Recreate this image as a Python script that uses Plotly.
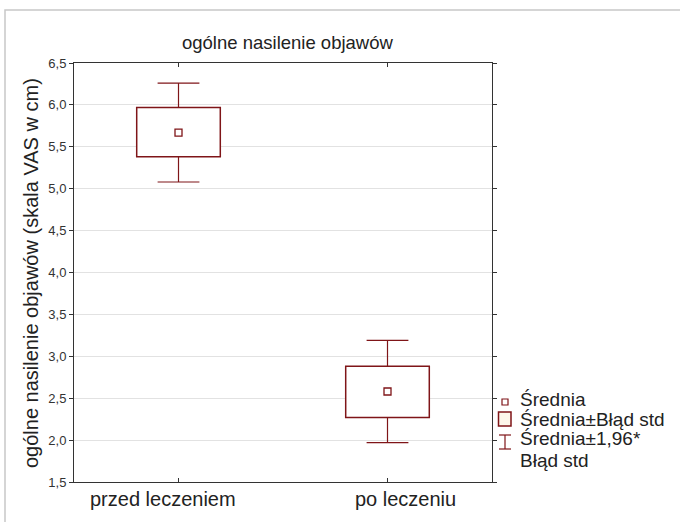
import plotly.graph_objects as go

categories = ["przed leczeniem", "po leczeniu"]
means = [5.67, 2.58]
se_low = [5.38, 2.27]
se_high = [5.97, 2.88]
ci_low = [5.08, 1.97]
ci_high = [6.26, 3.19]
y_ticks = [1.5, 2.0, 2.5, 3.0, 3.5, 4.0, 4.5, 5.0, 5.5, 6.0, 6.5]

RED = "#7f1518"
W, H = 680, 522
L, R, T, B = 74, 188, 63, 40
pw, ph = W - L - R, H - T - B

def px(x):
    return (x - L) / pw

def py(y):
    return (H - B - y) / ph

xs = list(range(len(categories)))

fig = go.Figure()
wx, wy = [], []
cap = 0.1
for i in xs:
    wx += [i, i, None, i - cap, i + cap, None, i, i, None, i - cap, i + cap, None]
    wy += [se_high[i], ci_high[i], None, ci_high[i], ci_high[i], None,
           se_low[i], ci_low[i], None, ci_low[i], ci_low[i], None]
fig.add_trace(go.Scatter(x=wx, y=wy, mode="lines", line=dict(color=RED, width=1.2),
                         hoverinfo="skip", showlegend=False))
fig.add_trace(go.Bar(x=xs, y=[h - l for h, l in zip(se_high, se_low)], base=se_low,
                     width=0.4, marker=dict(color="white", line=dict(color=RED, width=1.5)),
                     showlegend=False))
fig.add_trace(go.Scatter(x=xs, y=means, mode="markers",
                         marker=dict(symbol="square-open", size=7, color=RED, line=dict(width=1.3)),
                         showlegend=False))

shapes = [
    dict(type="rect", xref="paper", yref="paper", x0=px(5), x1=px(700), y0=py(10), y1=py(540),
         line=dict(color="#c8c8c8", width=1.5), layer="below"),
    dict(type="rect", xref="paper", yref="paper", x0=px(502), x1=px(508), y0=py(405), y1=py(399),
         line=dict(color=RED, width=1.2), fillcolor="white"),
    dict(type="rect", xref="paper", yref="paper", x0=px(498.5), x1=px(511), y0=py(426), y1=py(412),
         line=dict(color=RED, width=1.5), fillcolor="#fdf6ea"),
    dict(type="line", xref="paper", yref="paper", x0=px(505), x1=px(505), y0=py(435), y1=py(449),
         line=dict(color=RED, width=1.2)),
    dict(type="line", xref="paper", yref="paper", x0=px(499), x1=px(511), y0=py(435), y1=py(435),
         line=dict(color=RED, width=1.2)),
    dict(type="line", xref="paper", yref="paper", x0=px(499), x1=px(511), y0=py(449), y1=py(449),
         line=dict(color=RED, width=1.2)),
]

FAM = "Liberation Sans, Arial, sans-serif"
font_txt = dict(family=FAM, size=19, color="#222222")
annotations = [
    dict(text="Średnia", x=px(518), y=py(399), xref="paper", yref="paper",
         xanchor="left", yanchor="middle", showarrow=False, font=font_txt),
    dict(text="Średnia±Błąd std", x=px(518), y=py(419), xref="paper", yref="paper",
         xanchor="left", yanchor="middle", showarrow=False, font=font_txt),
    dict(text="Średnia±1,96*", x=px(518), y=py(438.5), xref="paper", yref="paper",
         xanchor="left", yanchor="middle", showarrow=False, font=font_txt),
    dict(text="Błąd std", x=px(518), y=py(460), xref="paper", yref="paper",
         xanchor="left", yanchor="middle", showarrow=False, font=font_txt),
    dict(text="ogólne nasilenie objawów (skala VAS w cm)", x=px(31), y=py(273), xref="paper", yref="paper",
         xanchor="center", yanchor="middle", textangle=-90, showarrow=False,
         font=dict(family=FAM, size=20, color="#222222")),
    dict(text="ogólne nasilenie objawów", x=px(287), y=py(43), xref="paper", yref="paper",
         xanchor="center", yanchor="middle", showarrow=False,
         font=dict(family=FAM, size=18.5, color="#222222")),
]
label_px = [163, 405]
for cat, lx in zip(categories, label_px):
    annotations.append(dict(text=cat, x=px(lx), y=py(499), xref="paper", yref="paper",
                            xanchor="center", yanchor="middle", showarrow=False,
                            font=dict(family=FAM, size=20, color="#222222")))

fig.update_layout(
    width=W, height=H,
    margin=dict(l=L, r=R, t=T, b=B),
    paper_bgcolor="white", plot_bgcolor="white",
    separators=", ",
    shapes=shapes, annotations=annotations,
    font=dict(family=FAM, color="#333333"),
)
fig.update_xaxes(range=[-0.5, 1.5], tickvals=xs, ticktext=["", ""], showgrid=False,
                 zeroline=False, showline=True, linecolor="#333333", linewidth=1, mirror="ticks",
                 ticks="inside", ticklen=4, tickcolor="#333333")
fig.update_yaxes(range=[1.5, 6.5], tickvals=y_ticks, tickformat=".1f", showgrid=True,
                 gridcolor="#e2e2e2", gridwidth=1, zeroline=False, showline=True,
                 linecolor="#333333", linewidth=1, mirror="ticks", ticks="outside", ticklen=4,
                 tickcolor="#333333", tickfont=dict(size=13, color="#333333"))

fig.write_html("out.html", config={"displayModeBar": False},
               post_script="document.body.style.margin='0';")
